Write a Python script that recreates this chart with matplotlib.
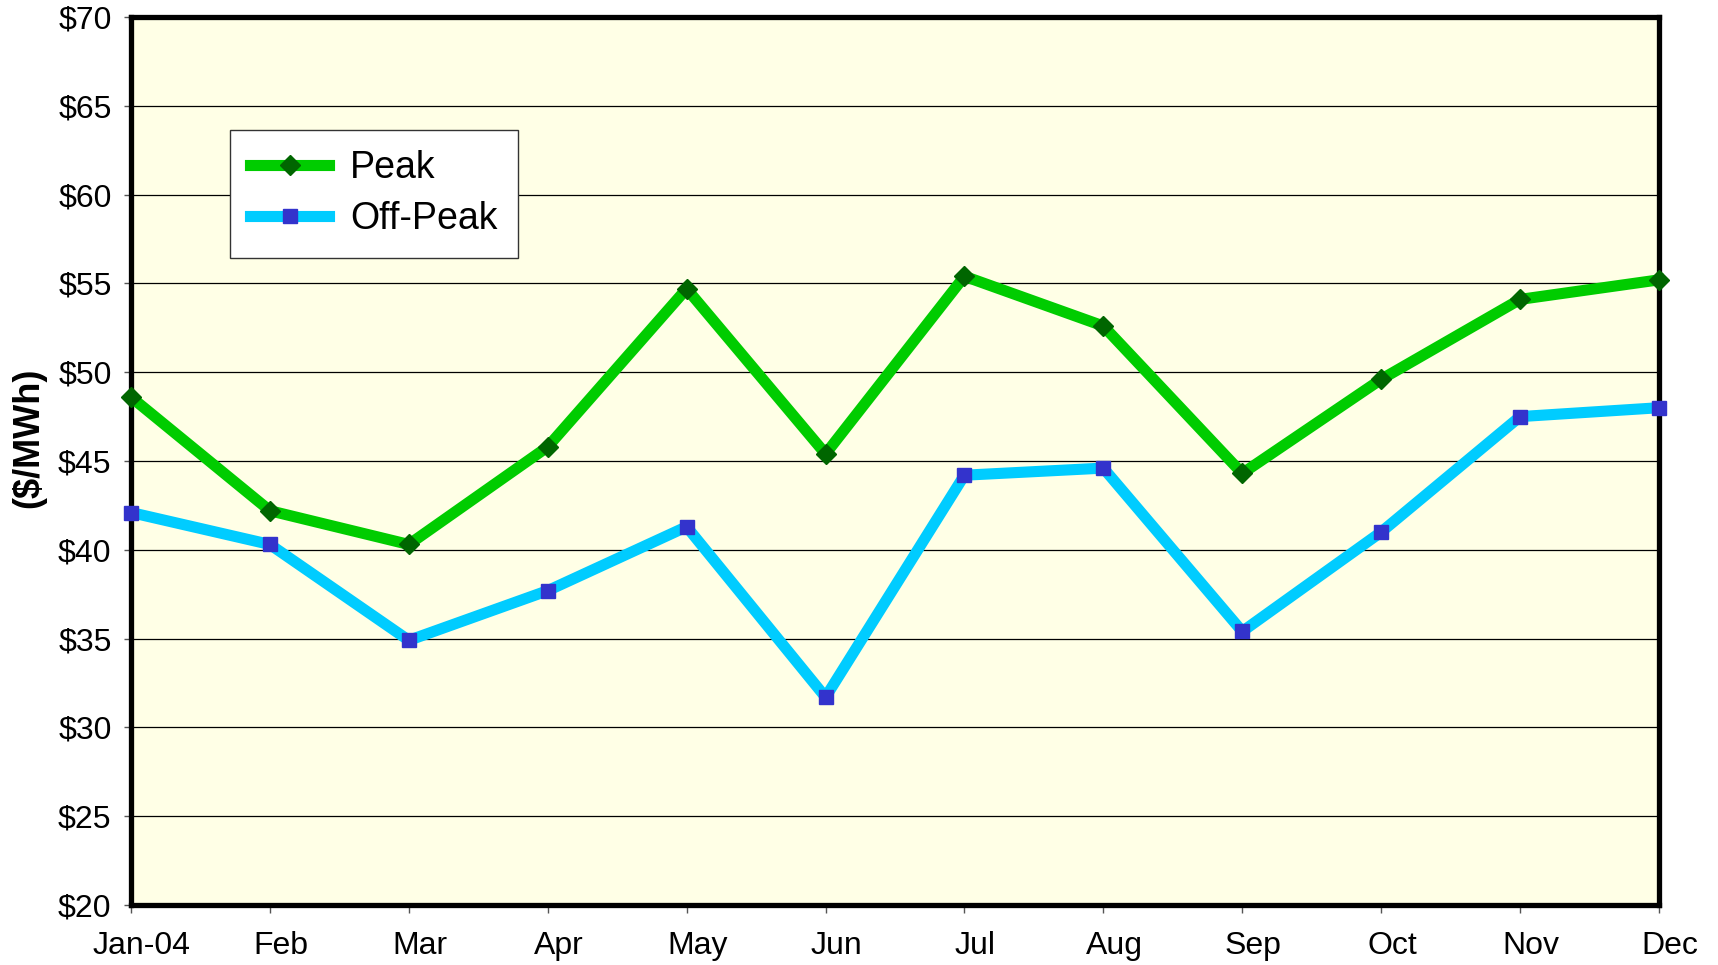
import numpy as np
import matplotlib
matplotlib.use('Agg')
from matplotlib import pyplot as plt
from matplotlib import transforms

# Data
months = ['Jan-04', 'Feb', 'Mar', 'Apr', 'May', 'Jun',
          'Jul', 'Aug', 'Sep', 'Oct', 'Nov', 'Dec']
peak = [48.6, 42.2, 40.3, 45.8, 54.7, 45.4, 55.4, 52.6, 44.3, 49.6, 54.1, 55.2]
off_peak = [42.1, 40.3, 34.9, 37.7, 41.3, 31.7, 44.2, 44.6, 35.4, 41.0, 47.5, 48.0]
y_ticks = [20, 25, 30, 35, 40, 45, 50, 55, 60, 65, 70]

plt.rcParams['font.family'] = ['Liberation Sans', 'DejaVu Sans']

fig = plt.figure(figsize=(17.18, 9.65), dpi=100)
ax = fig.add_axes([131 / 1718, 1 - 905 / 965, (1659 - 131) / 1718, (905 - 17) / 965])
ax.set_facecolor('#FFFFE6')

x = np.arange(len(months))
ax.plot(x, peak, color='#00CC00', lw=8, marker='D', ms=10.5,
        mfc='#006600', mec='#006600', label='Peak', clip_on=False, zorder=3)
ax.plot(x, off_peak, color='#00CCFF', lw=8, marker='s', ms=10.5,
        mfc='#3333CC', mec='#3333CC', label='Off-Peak', clip_on=False, zorder=3)

ax.set_xlim(0, 11)
ax.set_ylim(20, 70)
ax.set_yticks(y_ticks)
ax.set_yticklabels(['${}'.format(v) for v in y_ticks], fontsize=23)
ax.set_xticks(x)
ax.set_xticklabels(months, fontsize=23)
ax.yaxis.grid(True, color='black', lw=0.9)
ax.set_axisbelow(True)
ax.tick_params(axis='y', length=5, width=1, color='#555555', pad=9)
ax.tick_params(axis='x', length=6, width=1, color='#555555', pad=13)

# Shift x labels a bit to the right like the original
offset = transforms.ScaledTranslation(11 / 100, 0, fig.dpi_scale_trans)
for lbl in ax.get_xticklabels():
    lbl.set_transform(lbl.get_transform() + offset)

for s in ax.spines.values():
    s.set_linewidth(3.8)
    s.set_color('black')

ax.set_ylabel('($/MWh)', fontsize=26, fontweight='bold')
ax.yaxis.set_label_coords(-0.0555, 0.526)

leg = ax.legend(loc='upper left', bbox_to_anchor=(0.0647, 0.873), borderaxespad=0,
                fontsize=27, frameon=True, fancybox=False, handlelength=2.1,
                handletextpad=0.55, borderpad=0.55, labelspacing=0.4)
leg.get_frame().set_edgecolor('#333333')
leg.get_frame().set_linewidth(1)
leg.get_frame().set_facecolor('white')
leg.get_frame().set_alpha(1)

plt.savefig('out.png', dpi=100)
